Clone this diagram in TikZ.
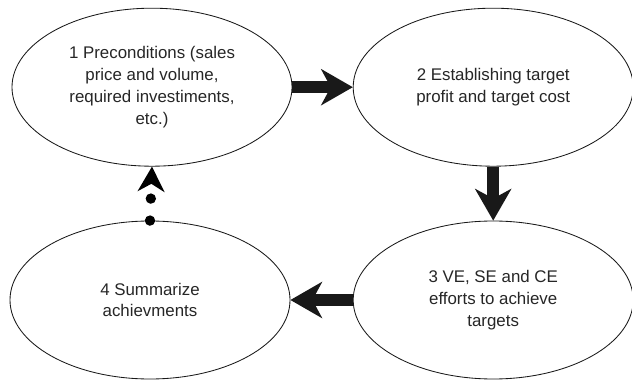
\documentclass[tikz,border=0pt]{standalone}
\usepackage{fontspec}
\setmainfont{Liberation Sans}
\usepackage{tikz}
\usetikzlibrary{shapes.geometric, arrows.meta, positioning, decorations.markings}

\begin{document}
\begin{tikzpicture}[
    stage/.style={ellipse, draw=black!90, line width=0.6pt, minimum width=7cm, minimum height=3.95cm,
        inner sep=0pt, align=center, text=black!85, font=\fontsize{12}{15.6}\selectfont},
    bigarrow/.style={line width=0.3cm, black!90,
        -{Stealth[length=0.8cm, width=0.92cm, inset=0.25cm, line width=0pt]}},
    dotarrow/.style={black!90, decoration={markings,
        mark=at position 0 with {\fill (0,0) circle (0.13cm);},
        mark=at position 0.55cm with {\fill (0,0) circle (0.13cm);},
        mark=at position 1 with {\arrow{Stealth[length=0.63cm, width=0.68cm, inset=0.2cm, line width=0pt]}}},
        decorate}
]
    % Canvas
    \useasboundingbox (0,0) rectangle (15.8,9.5);

    % Stages
    \node[stage] (pre) at (3.8,7.32) {1 Preconditions (sales\\price and volume,\\required investiments,\\etc.)};
    \node[stage] (tgt) at (12.33,7.32) {2 Establishing target\\profit and target cost};
    \node[stage] (eff) at (12.33,2.0) {3 VE, SE and CE\\efforts to achieve\\targets};
    \node[stage] (sum) at (3.75,2.0) {4 Summarize\\achievments};

    % Arrows
    \draw[bigarrow] (pre.east) -- (tgt.west);
    \draw[bigarrow] (tgt.south) -- (eff.north);
    \draw[bigarrow] (eff.west) -- (sum.east);
    \path[dotarrow] (sum.north) -- (pre.south);

\end{tikzpicture}
\end{document}
